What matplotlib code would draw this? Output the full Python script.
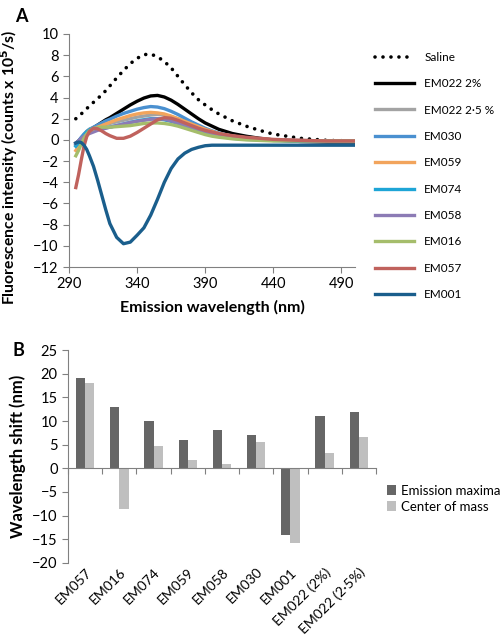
import numpy as np
import matplotlib
matplotlib.use('Agg')
import matplotlib.pyplot as plt
from matplotlib.lines import Line2D

plt.rcParams['font.family'] = ['Lato', 'DejaVu Sans']

# --- Panel A : spectres de fluorescence ---
wl = [295, 297, 299, 301, 303, 305, 308, 311, 314, 317,
      320, 325, 330, 335, 340, 345, 350, 355, 360, 365, 370, 375, 380, 385, 390, 395, 400,
      410, 420, 430, 440, 460, 480, 500]

saline   = [2.0, 2.2, 2.45, 2.7, 2.95, 3.2, 3.55, 3.9, 4.25, 4.65,
            5.1, 5.85, 6.55, 7.2, 7.7, 8.05, 8.1, 7.85, 7.4, 6.8, 6.0, 5.2, 4.45, 3.8, 3.3, 2.85, 2.45,
            1.8, 1.3, 0.9, 0.55, 0.15, -0.05, -0.1]
em022_2  = [-0.3, -0.1, 0.15, 0.4, 0.65, 0.85, 1.15, 1.4, 1.65, 1.9,
            2.1, 2.5, 2.9, 3.3, 3.65, 3.95, 4.15, 4.2, 4.05, 3.75, 3.35, 2.9, 2.45, 2.0, 1.6, 1.3, 1.0,
            0.6, 0.35, 0.15, 0.0, -0.15, -0.2, -0.2]
em022_25 = [-0.5, -0.2, 0.15, 0.5, 0.8, 1.0, 1.15, 1.25, 1.35, 1.45,
            1.55, 1.7, 1.85, 2.0, 2.15, 2.25, 2.35, 2.4, 2.35, 2.2, 2.0, 1.75, 1.5, 1.25, 1.0, 0.8, 0.6,
            0.35, 0.2, 0.1, 0.0, -0.1, -0.1, -0.1]
em030    = [-0.4, -0.1, 0.25, 0.55, 0.8, 1.0, 1.2, 1.4, 1.6, 1.8,
            1.95, 2.25, 2.5, 2.7, 2.9, 3.05, 3.15, 3.1, 2.95, 2.7, 2.4, 2.05, 1.7, 1.4, 1.1, 0.85, 0.65,
            0.35, 0.15, 0.05, -0.05, -0.1, -0.15, -0.15]
em059    = [-1.0, -0.6, -0.1, 0.35, 0.7, 0.95, 1.1, 1.2, 1.35, 1.5,
            1.65, 1.9, 2.1, 2.3, 2.45, 2.55, 2.6, 2.55, 2.45, 2.25, 2.0, 1.75, 1.5, 1.25, 1.0, 0.8, 0.6,
            0.35, 0.2, 0.1, 0.0, -0.05, -0.1, -0.1]
em074    = [-0.6, -0.3, 0.1, 0.45, 0.75, 0.95, 1.1, 1.1, 1.1, 1.15,
            1.2, 1.35, 1.5, 1.65, 1.8, 1.9, 2.0, 2.0, 1.9, 1.75, 1.55, 1.3, 1.1, 0.9, 0.7, 0.5, 0.35,
            0.15, 0.05, 0.0, -0.05, -0.1, -0.1, -0.1]
em058    = [-0.3, -0.1, 0.15, 0.35, 0.5, 0.6, 0.75, 0.9, 1.0, 1.1,
            1.2, 1.35, 1.5, 1.65, 1.75, 1.85, 1.95, 2.0, 1.95, 1.8, 1.6, 1.4, 1.2, 1.0, 0.8, 0.6, 0.45,
            0.25, 0.1, 0.05, 0.0, -0.05, -0.1, -0.1]
em016    = [-1.5, -1.0, -0.4, 0.15, 0.55, 0.85, 1.05, 1.15, 1.2, 1.2,
            1.2, 1.25, 1.3, 1.35, 1.45, 1.55, 1.6, 1.6, 1.55, 1.45, 1.3, 1.1, 0.9, 0.7, 0.5, 0.35, 0.25,
            0.1, 0.0, -0.05, -0.1, -0.1, -0.1, -0.1]
em057    = [-4.5, -3.3, -1.9, -0.6, 0.3, 0.8, 1.1, 1.05, 0.85, 0.6,
            0.4, 0.15, 0.15, 0.35, 0.7, 1.1, 1.5, 1.9, 2.1, 2.05, 1.85, 1.6, 1.35, 1.1, 0.9, 0.75, 0.6,
            0.4, 0.25, 0.15, 0.05, -0.05, -0.1, -0.1]
em001    = [-0.3, -0.2, -0.25, -0.5, -0.9, -1.5, -2.5, -3.8, -5.2, -6.6,
            -7.9, -9.2, -9.8, -9.65, -9.0, -8.3, -7.1, -5.6, -4.0, -2.7, -1.8, -1.25, -0.9, -0.7, -0.55, -0.5, -0.5,
            -0.5, -0.5, -0.5, -0.5, -0.5, -0.5, -0.5]

series_A = [em022_2, em022_25, em030, em059, em074, em058, em016, em057, em001]
labels_A = ['EM022 2%', 'EM022 2·5 %', 'EM030', 'EM059', 'EM074', 'EM058', 'EM016', 'EM057', 'EM001']
colors_A = ['#000000', '#a3a3a3', '#4a90d0', '#f2a45c', '#1ea5d6', '#8c7bb5', '#a5bd6b', '#c0625d', '#1a5e8c']

# --- Panel B : décalages de longueur d'onde ---
categories = ['EM057', 'EM016', 'EM074', 'EM059', 'EM058', 'EM030', 'EM001', 'EM022 (2%)', 'EM022 (2·5%)']
emission_max = [19, 13, 10, 6, 8, 7, -14, 11, 12]
center_mass = [18, -8.5, 4.7, 1.7, 0.9, 5.5, -15.7, 3.3, 6.7]

fig = plt.figure(figsize=(5.0, 6.35), dpi=100)

# ----- Panel A -----
axA = fig.add_axes([0.138, 0.5795, 0.572, 0.367])
axA.plot(wl, saline, color='black', lw=2.6, linestyle=(0, (0.01, 2.2)),
         dash_capstyle='round', label='Saline')
for y, lab, c in zip(series_A, labels_A, colors_A):
    axA.plot(wl, y, color=c, lw=2.4, label=lab)

axA.set_xlim(290, 500)
axA.set_ylim(-12, 10)
axA.set_xticks(np.arange(290, 500, 50))
axA.set_yticks(np.arange(-12, 11, 2))
axA.set_yticklabels([str(v).replace('-', '\u2212') for v in range(-12, 11, 2)])
axA.spines['top'].set_visible(False)
axA.spines['right'].set_visible(False)
for s in ['left', 'bottom']:
    axA.spines[s].set_color('#808080')
axA.tick_params(direction='out', length=4, color='#808080', labelsize=10.5)
axA.set_xlabel('Emission wavelength (nm)', fontsize=11.5, fontweight='bold', labelpad=6)
axA.set_ylabel('Fluorescence intensity (counts x 10$^\\mathbf{5}$/s)', fontsize=11.3,
               fontweight='bold')
axA.yaxis.set_label_coords(-0.17, 0.43)

handles = [Line2D([], [], color='black', lw=2.6, linestyle=(0, (0.01, 2.2)),
                  dash_capstyle='round')]
handles += [Line2D([], [], color=c, lw=2.4) for c in colors_A]
fig.legend(handles, ['Saline'] + labels_A, loc='upper left',
           bbox_to_anchor=(0.728, 0.935), frameon=False, fontsize=8.5,
           handlelength=3.3, handletextpad=0.9, labelspacing=1.3)

fig.text(0.030, 0.988, 'A', fontsize=13, fontweight='bold', va='top')

# ----- Panel B -----
axB = fig.add_axes([0.136, 0.1134, 0.616, 0.3354])
x = np.arange(len(categories))
w = 0.27
axB.bar(x - w / 2, emission_max, width=w, color='#666666', label='Emission maxima')
axB.bar(x + w / 2, center_mass, width=w, color='#bfbfbf', label='Center of mass')

axB.set_xlim(-0.5, len(categories) - 0.5)
axB.set_ylim(-20, 25)
axB.set_yticks(np.arange(-20, 26, 5))
axB.set_yticklabels([str(v).replace('-', '\u2212') for v in range(-20, 26, 5)])
axB.spines['top'].set_visible(False)
axB.spines['right'].set_visible(False)
axB.spines['bottom'].set_position(('data', 0))
for s in ['left', 'bottom']:
    axB.spines[s].set_color('#808080')
axB.set_xticks(np.arange(len(categories) + 1) - 0.5)
axB.set_xticklabels([])
axB.tick_params(axis='x', direction='out', length=4, color='#808080')
axB.tick_params(axis='y', direction='out', length=4, color='#808080', labelsize=10.5)

sec = axB.secondary_xaxis('bottom')
sec.set_xticks(x)
sec.set_xticklabels(categories, rotation=45, ha='right', rotation_mode='anchor', fontsize=10)
sec.tick_params(length=0, pad=2)
sec.spines['bottom'].set_visible(False)

axB.set_ylabel('Wavelength shift (nm)', fontsize=12, fontweight='bold', labelpad=4)
axB.legend(loc='upper left', bbox_to_anchor=(0.763, 0.245), bbox_transform=fig.transFigure,
           frameon=False, fontsize=9.5, handlelength=0.7, handleheight=0.7,
           handletextpad=0.4, labelspacing=0.3, borderaxespad=0)

fig.text(0.026, 0.462, 'B', fontsize=13, fontweight='bold', va='top')

fig.savefig('out.png', dpi=100)
